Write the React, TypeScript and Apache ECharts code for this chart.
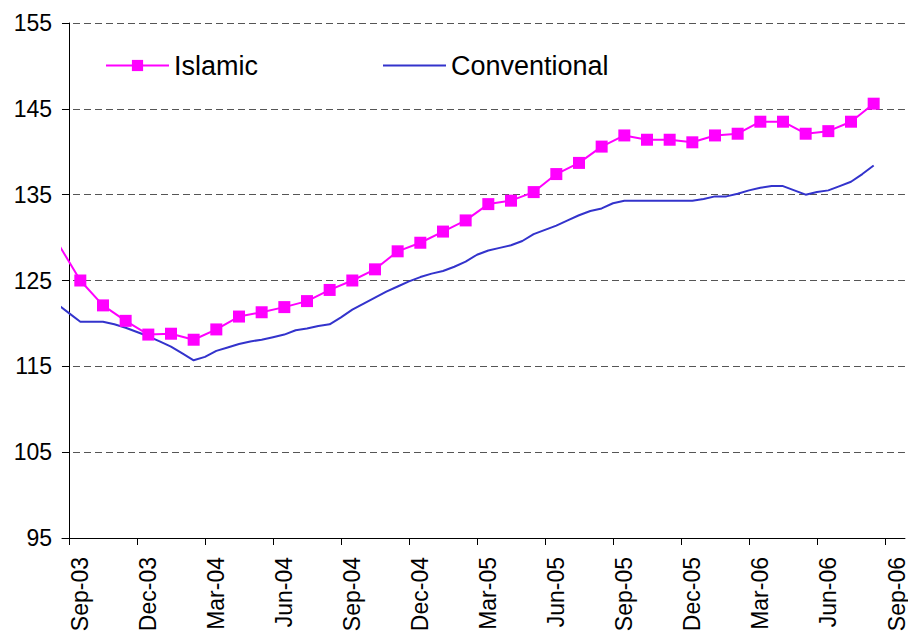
import React, { useEffect, useRef } from "react";
import * as echarts from "echarts";

// X axis: months since Sep-03 (tick positions every quarter)
const tickPositions = [0, 3, 6, 9, 12, 15, 18, 21, 24, 27, 30, 33, 36];
const tickLabels = [
  "Sep-03", "Dec-03", "Mar-04", "Jun-04", "Sep-04", "Dec-04", "Mar-05",
  "Jun-05", "Sep-05", "Dec-05", "Mar-06", "Jun-06", "Sep-06",
];

// Islamic index, monthly (Aug-03 .. Aug-06), plotted mid-month
const islamicMonths = [
  "Aug-03", "Sep-03", "Oct-03", "Nov-03", "Dec-03", "Jan-04", "Feb-04", "Mar-04",
  "Apr-04", "May-04", "Jun-04", "Jul-04", "Aug-04", "Sep-04", "Oct-04", "Nov-04",
  "Dec-04", "Jan-05", "Feb-05", "Mar-05", "Apr-05", "May-05", "Jun-05", "Jul-05",
  "Aug-05", "Sep-05", "Oct-05", "Nov-05", "Dec-05", "Jan-06", "Feb-06", "Mar-06",
  "Apr-06", "May-06", "Jun-06", "Jul-06", "Aug-06",
];
const islamicValues = [
  129.4, 125.0, 122.1, 120.3, 118.7, 118.8, 118.1, 119.3,
  120.8, 121.3, 121.9, 122.6, 123.9, 125.0, 126.3, 128.4,
  129.4, 130.7, 132.0, 133.9, 134.3, 135.3, 137.4, 138.7,
  140.6, 141.9, 141.4, 141.4, 141.1, 141.9, 142.1, 143.5,
  143.5, 142.1, 142.4, 143.5, 145.6,
];

// Conventional index, semi-monthly readings (mid-Aug-03 .. mid-Aug-06)
const conventionalValues = [
  122.2, 121.2, 120.2, 120.2, 120.2, 119.9, 119.5, 119.0, 118.5, 117.9,
  117.3, 116.5, 115.7, 116.1, 116.8, 117.2, 117.6, 117.9, 118.1, 118.4,
  118.7, 119.2, 119.4, 119.7, 119.9, 120.7, 121.6, 122.3, 123.0, 123.7,
  124.3, 124.9, 125.4, 125.8, 126.1, 126.6, 127.2, 128.0, 128.5, 128.8,
  129.1, 129.6, 130.4, 130.9, 131.4, 132.0, 132.6, 133.1, 133.4, 134.0,
  134.3, 134.3, 134.3, 134.3, 134.3, 134.3, 134.3, 134.5, 134.8, 134.8,
  135.1, 135.5, 135.8, 136.0, 136.0, 135.5, 135.0, 135.3, 135.5, 136.0,
  136.5, 137.4, 138.4,
];

const FONT = "'Liberation Sans', Arial, sans-serif";

export default function App() {
  const ref = useRef<HTMLDivElement>(null);

  useEffect(() => {
    document.body.style.margin = "0";
    if (!ref.current) return;
    const chart = echarts.init(ref.current, null, { renderer: "svg" });

    const islamicData = islamicValues.map((v, i) => [i - 0.5, v]);
    const conventionalData = conventionalValues.map((v, i) => [i * 0.5 - 0.5, v]);

    chart.setOption({
      animation: false,
      backgroundColor: "#ffffff",
      grid: { left: 62, right: 0, top: 23, bottom: 98, containLabel: false },
      legend: [
        {
          data: ["Islamic"],
          left: 100,
          top: 47,
          itemWidth: 63,
          itemHeight: 14,
          selectedMode: false,
          textStyle: { fontFamily: FONT, fontSize: 27, color: "#000" },
        },
        {
          data: [{ name: "Conventional", icon: "rect" }],
          left: 378,
          top: 47,
          itemWidth: 63,
          itemHeight: 2,
          selectedMode: false,
          textStyle: { fontFamily: FONT, fontSize: 27, color: "#000" },
        },
      ],
      xAxis: {
        type: "value",
        min: -0.308,
        max: 36.88,
        splitLine: { show: false },
        axisLine: { show: true, lineStyle: { color: "#000", width: 1 } },
        axisTick: {
          show: true,
          length: 7,
          customValues: tickPositions,
          lineStyle: { color: "#000" },
        },
        axisLabel: {
          customValues: tickPositions,
          rotate: 90,
          margin: 19,
          verticalAlign: "top",
          fontFamily: FONT,
          fontSize: 23,
          color: "#000",
          formatter: (v: number) => {
            const idx = tickPositions.indexOf(Math.round(v));
            return idx >= 0 ? tickLabels[idx] : "";
          },
        },
      },
      yAxis: {
        type: "value",
        min: 95,
        max: 155,
        interval: 10,
        axisLine: { show: true, onZero: true, lineStyle: { color: "#000", width: 1 } },
        axisTick: { show: true, length: 7, lineStyle: { color: "#000" } },
        axisLabel: { margin: 10, fontFamily: FONT, fontSize: 23, color: "#000" },
        splitLine: {
          show: true,
          lineStyle: { color: "#555", type: [7, 4], width: 1.2 },
        },
      },
      series: [
        {
          name: "Islamic",
          type: "line",
          data: islamicData,
          symbol: "rect",
          symbolSize: 12,
          clip: true,
          lineStyle: { color: "#FF00FF", width: 2 },
          itemStyle: { color: "#FF00FF" },
          z: 3,
        },
        {
          name: "Conventional",
          type: "line",
          data: conventionalData,
          symbol: "none",
          clip: true,
          lineStyle: { color: "#3333CC", width: 2 },
          itemStyle: { color: "#3333CC" },
          z: 2,
        },
      ],
    });

    return () => chart.dispose();
  }, []);

  return <div ref={ref} style={{ width: 908, height: 636 }} />;
}
